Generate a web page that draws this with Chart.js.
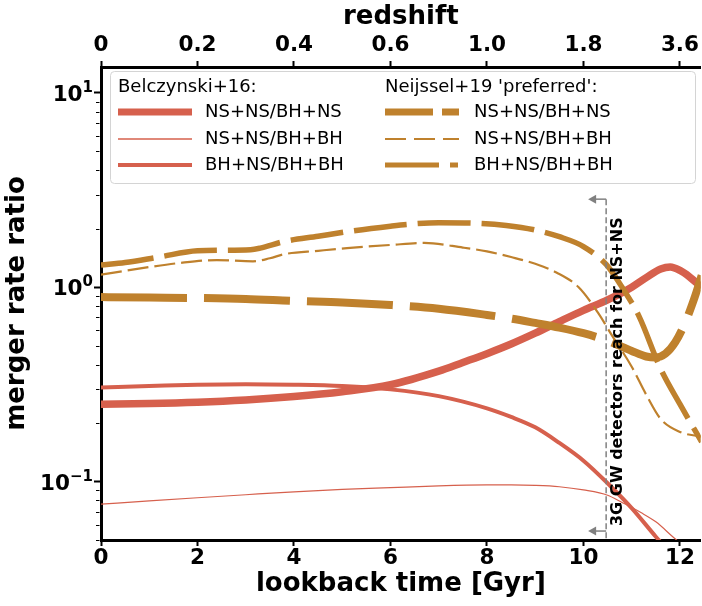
<!DOCTYPE html>
<html>
<head>
<meta charset="utf-8">
<script src="https://cdn.jsdelivr.net/npm/chart.js@4.4.1/dist/chart.umd.min.js"></script>
<style>
  html, body { margin: 0; padding: 0; background: #fff; }
  #wrap { width: 702px; height: 606px; position: relative; }
</style>
</head>
<body>
<div id="wrap"><canvas id="ratioChart"></canvas></div>
<script>
// lookback time [Gyr] -> merger rate ratio
const b16NsnsBhnsX = [0, 1, 2, 3, 4, 5, 6, 7, 7.5, 8, 8.5, 9, 9.5, 10, 10.5, 11, 11.3, 11.6, 11.8, 12, 12.2, 12.45];
const b16NsnsBhnsY = [0.25, 0.252, 0.256, 0.263, 0.274, 0.29, 0.315, 0.37, 0.41, 0.455, 0.51, 0.58, 0.665, 0.76, 0.86, 1.0, 1.12, 1.24, 1.27, 1.22, 1.13, 1.0];

const b16NsnsBhbhX = [0, 1, 2, 3, 4, 5, 6, 7, 8, 8.5, 9, 9.5, 10, 10.5, 10.8, 11.2, 11.5, 11.85, 12.1];
const b16NsnsBhbhY = [0.0765, 0.0795, 0.0825, 0.0855, 0.0885, 0.091, 0.093, 0.095, 0.096, 0.096, 0.0955, 0.094, 0.0905, 0.085, 0.078, 0.069, 0.062, 0.052, 0.046];

const b16BhnsBhbhX = [0, 1, 2, 3, 4, 5, 6, 7, 8, 8.5, 9, 9.5, 10, 10.5, 11, 11.5, 11.8];
const b16BhnsBhbhY = [0.305, 0.31, 0.315, 0.317, 0.315, 0.31, 0.298, 0.275, 0.238, 0.215, 0.19, 0.158, 0.128, 0.098, 0.073, 0.052, 0.043];

const n19NsnsBhnsX = [0, 1, 2, 3, 4, 5, 6, 7, 8, 8.5, 9, 9.5, 10, 10.5, 11, 11.3, 11.5, 11.7, 11.9, 12.1, 12.3, 12.45];
const n19NsnsBhnsY = [0.89, 0.885, 0.88, 0.87, 0.85, 0.835, 0.81, 0.775, 0.72, 0.69, 0.655, 0.62, 0.58, 0.53, 0.47, 0.44, 0.435, 0.455, 0.52, 0.65, 0.88, 1.15];

const n19NsnsBhbhX = [0, 1, 1.6, 2.4, 3.15, 3.5, 3.8, 4.5, 5.1, 6, 6.7, 7.5, 8, 8.5, 9, 9.44, 9.9, 10.3, 10.6, 11, 11.3, 11.6, 12, 12.45];
const n19NsnsBhbhY = [1.16, 1.27, 1.33, 1.38, 1.36, 1.41, 1.48, 1.54, 1.59, 1.65, 1.69, 1.6, 1.53, 1.43, 1.32, 1.19, 1.0, 0.74, 0.56, 0.39, 0.28, 0.21, 0.18, 0.17];

const n19BhnsBhbhX = [0, 0.5, 1.2, 2, 3.1, 3.3, 3.8, 4.5, 5.1, 6, 6.4, 7, 7.7, 8.4, 9, 9.5, 10, 10.47, 10.8, 11.15, 11.6, 12, 12.45];
const n19BhnsBhbhY = [1.30, 1.34, 1.43, 1.54, 1.56, 1.59, 1.72, 1.83, 1.93, 2.06, 2.11, 2.15, 2.14, 2.08, 1.97, 1.82, 1.62, 1.31, 1.0, 0.71, 0.38, 0.25, 0.16];

const seriesLabels = ['NS+NS/BH+NS', 'NS+NS/BH+BH', 'BH+NS/BH+BH'];
const groupHeaders = ['Belczynski+16:', "Neijssel+19 'preferred':"];

// axes
const lookbackTicks = [0, 2, 4, 6, 8, 10, 12];
const redshiftLabels = ['0', '0.2', '0.4', '0.6', '1.0', '1.8', '3.6'];
const yMajorTicks = [0.1, 1, 10];
const yMajorExponents = ['\u22121', '0', '1'];

// 3G detector reach annotation
const reachGyr = 10.47;
const reachTop = 2.84;
const reachBottom = 0.0556;
const reachText = '3G GW detectors reach for NS+NS';

const RED = '#d6604d';
const BROWN = '#bf812d';
const GREY = '#808080';
const FONT = '"DejaVu Sans", sans-serif';

function pts(xs, ys) { return xs.map((v, i) => ({ x: v, y: ys[i] })); }

function line(group, idx, xs, ys, style) {
  return Object.assign({
    label: seriesLabels[idx],
    group: group,
    data: pts(xs, ys),
    pointRadius: 0,
    fill: false,
    cubicInterpolationMode: 'monotone',
    borderCapStyle: 'butt',
    borderJoinStyle: 'round',
    clip: 0
  }, style);
}

const datasets = [
  line(0, 0, b16NsnsBhnsX, b16NsnsBhnsY, { borderColor: RED, borderWidth: 7.5, order: 2, legendWidth: 7, legendDash: [] }),
  line(0, 1, b16NsnsBhbhX, b16NsnsBhbhY, { borderColor: RED, borderWidth: 1.2, order: 2, legendWidth: 1.3, legendDash: [] }),
  line(0, 2, b16BhnsBhbhX, b16BhnsBhbhY, { borderColor: RED, borderWidth: 4, order: 2, legendWidth: 4, legendDash: [] }),
  line(1, 0, n19NsnsBhnsX, n19NsnsBhnsY, { borderColor: BROWN, borderWidth: 8, borderDash: [86, 17], order: 1, legendWidth: 7, legendDash: [48, 9] }),
  line(1, 1, n19NsnsBhbhX, n19NsnsBhbhY, { borderColor: BROWN, borderWidth: 2.2, borderDash: [21, 6], order: 1, legendWidth: 2.2, legendDash: [21, 8] }),
  line(1, 2, n19BhnsBhbhX, n19BhnsBhbhY, { borderColor: BROWN, borderWidth: 5.5, borderDash: [53, 11], order: 1, legendWidth: 5, legendDash: [54, 11, 8, 11] })
];

const overlay = {
  id: 'overlay',
  afterDatasetsDraw(chart) {
    const { ctx, chartArea: a, scales: { x, y } } = chart;
    ctx.save();
    // minor log ticks
    ctx.strokeStyle = '#000';
    ctx.lineWidth = 1;
    [0.01, 0.1, 1].forEach(dec => {
      for (let k = 2; k <= 9; k++) {
        const v = dec * k;
        if (v < y.min || v > y.max) continue;
        const py = Math.round(y.getPixelForValue(v)) + 0.5;
        ctx.beginPath();
        ctx.moveTo(a.left - 1.5, py);
        ctx.lineTo(a.left - 5, py);
        ctx.stroke();
      }
    });

    // y tick labels as 10^n with a raised exponent
    ctx.fillStyle = '#000';
    ctx.textBaseline = 'alphabetic';
    ctx.textAlign = 'right';
    yMajorTicks.forEach((v, i) => {
      const py = y.getPixelForValue(v);
      const right = a.left - 8;
      ctx.font = 'bold 15px ' + FONT;
      const expW = ctx.measureText(yMajorExponents[i]).width;
      ctx.fillText(yMajorExponents[i], right, py - 1);
      ctx.font = 'bold 21.5px ' + FONT;
      ctx.fillText('10', right - expW, py + 8);
    });

    // detector reach line + arrows
    const px = x.getPixelForValue(reachGyr);
    const yTop = y.getPixelForValue(reachTop);
    const yBot = y.getPixelForValue(reachBottom);
    ctx.strokeStyle = GREY;
    ctx.fillStyle = GREY;
    ctx.lineWidth = 1.5;
    ctx.setLineDash([6, 3]);
    ctx.beginPath();
    ctx.moveTo(px, yTop);
    ctx.lineTo(px, a.bottom);
    ctx.stroke();
    ctx.setLineDash([]);
    [yTop, yBot].forEach(py => {
      const tip = px - 18;
      ctx.beginPath();
      ctx.moveTo(px, py);
      ctx.lineTo(tip + 6, py);
      ctx.stroke();
      ctx.beginPath();
      ctx.moveTo(tip, py);
      ctx.lineTo(tip + 8, py - 4.5);
      ctx.lineTo(tip + 8, py + 4.5);
      ctx.closePath();
      ctx.fill();
    });

    ctx.translate(px + 12, yBot - 5);
    ctx.rotate(-Math.PI / 2);
    ctx.font = 'bold 16px ' + FONT;
    ctx.fillStyle = '#000';
    ctx.textAlign = 'left';
    ctx.textBaseline = 'middle';
    ctx.fillText(reachText, 0, 0);
    ctx.restore();
  },
  afterDraw(chart) {
    const ctx = chart.ctx;
    ctx.save();
    // legend frame
    ctx.fillStyle = 'rgba(255,255,255,0.8)';
    ctx.strokeStyle = '#d4d4d4';
    ctx.lineWidth = 1;
    ctx.beginPath();
    ctx.roundRect(110.5, 71.5, 585, 112, 4);
    ctx.fill();
    ctx.stroke();

    const cols = [{ x: 118, label: 205 }, { x: 385, label: 474 }];
    const rows = [112, 139, 165];
    ctx.font = '18px ' + FONT;
    ctx.fillStyle = '#000';
    ctx.textBaseline = 'middle';
    ctx.textAlign = 'left';
    groupHeaders.forEach((h, g) => ctx.fillText(h, cols[g].x, 87));

    chart.data.datasets.forEach(ds => {
      const c = cols[ds.group];
      const idx = seriesLabels.indexOf(ds.label);
      const py = rows[idx];
      ctx.strokeStyle = ds.borderColor;
      ctx.lineWidth = ds.legendWidth;
      ctx.lineCap = 'butt';
      ctx.setLineDash(ds.legendDash);
      ctx.beginPath();
      ctx.moveTo(c.x, py);
      ctx.lineTo(c.x + 74, py);
      ctx.stroke();
      ctx.setLineDash([]);
      ctx.fillStyle = '#000';
      ctx.fillText(ds.label, c.label, py);
    });
    ctx.restore();
  }
};

const tickFont = { family: FONT, weight: 'bold', size: 21.5 };
const titleFont = { family: FONT, weight: 'bold', size: 26 };

new Chart(document.getElementById('ratioChart'), {
  type: 'line',
  data: { datasets: datasets },
  options: {
    responsive: true,
    maintainAspectRatio: false,
    devicePixelRatio: 1,
    animation: false,
    layout: { padding: 0 },
    plugins: { legend: { display: false }, tooltip: { enabled: false } },
    scales: {
      x: {
        type: 'linear',
        position: 'bottom',
        min: 0,
        max: 12.43,
        afterBuildTicks: s => { s.ticks = lookbackTicks.map(v => ({ value: v })); },
        afterFit: s => { s.height = 66; },
        ticks: { font: tickFont, color: '#000', padding: 0, maxRotation: 0, autoSkip: false, callback: v => String(v) },
        grid: { drawOnChartArea: false, drawTicks: true, tickLength: 6, tickWidth: 2, tickColor: '#000' },
        border: { display: true, width: 3, color: '#000' },
        title: { display: true, text: 'lookback time [Gyr]', font: titleFont, color: '#000', padding: { top: 0, bottom: 6 } }
      },
      x2: {
        type: 'linear',
        position: 'top',
        min: 0,
        max: 12.43,
        afterBuildTicks: s => { s.ticks = lookbackTicks.map(v => ({ value: v })); },
        afterFit: s => { s.height = 67; },
        ticks: { font: tickFont, color: '#000', padding: 3, maxRotation: 0, autoSkip: false,
                 callback: (v, i) => redshiftLabels[i] },
        grid: { drawOnChartArea: false, drawTicks: true, tickLength: 6, tickWidth: 2, tickColor: '#000' },
        border: { display: true, width: 3, color: '#000' },
        title: { display: true, text: 'redshift', font: titleFont, color: '#000', padding: { top: 2, bottom: 0 } }
      },
      y: {
        type: 'logarithmic',
        position: 'left',
        min: 0.05,
        max: 13.6,
        afterBuildTicks: s => { s.ticks = yMajorTicks.map(v => ({ value: v })); },
        afterFit: s => { s.width = 101; },
        ticks: { display: false },
        grid: { drawOnChartArea: false, drawTicks: true, tickLength: 7, tickWidth: 2, tickColor: '#000' },
        border: { display: true, width: 3, color: '#000' },
        title: { display: true, text: 'merger rate ratio', font: titleFont, color: '#000', padding: { top: 2, bottom: 0 } }
      }
    }
  },
  plugins: [overlay]
});
</script>
</body>
</html>
